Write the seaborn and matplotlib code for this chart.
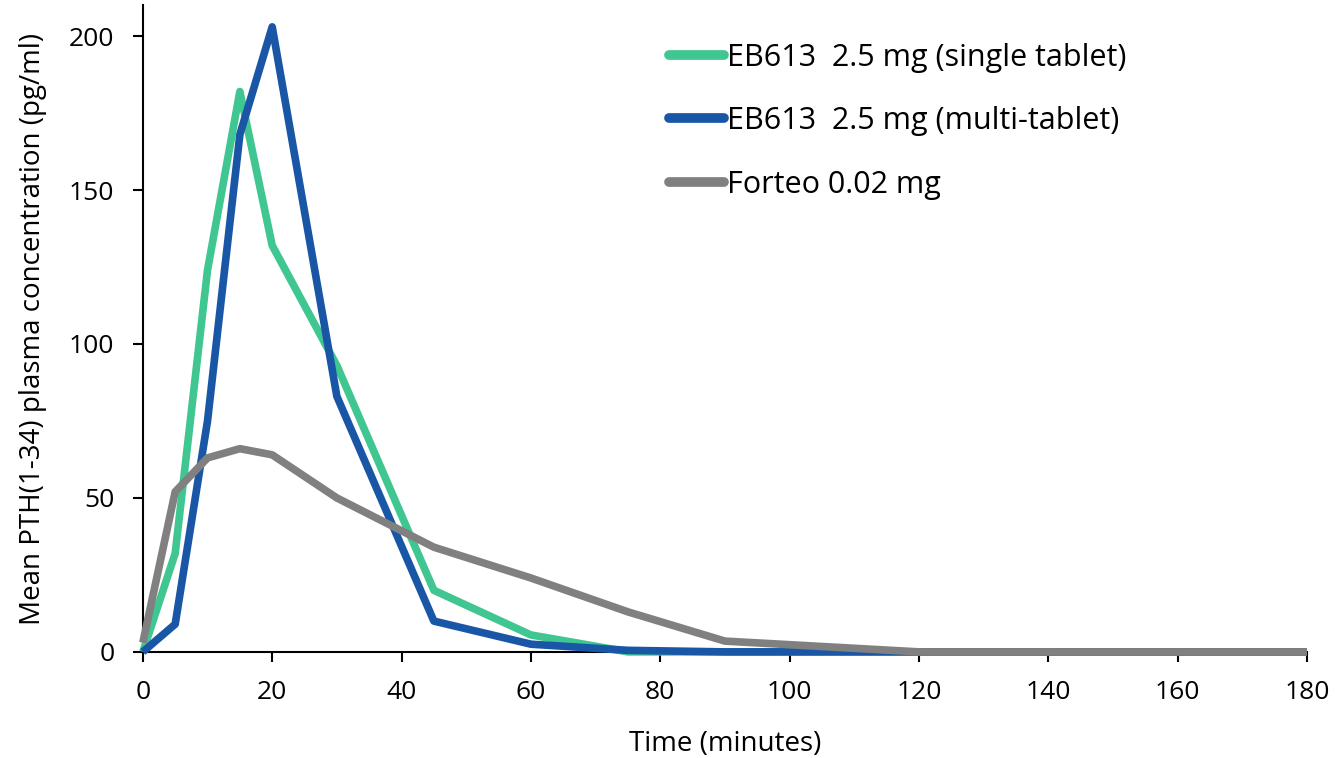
import matplotlib
matplotlib.use("Agg")
import matplotlib.pyplot as plt
import seaborn as sns
import pandas as pd

time_min = [0, 5, 10, 15, 20, 30, 45, 60, 75, 90, 120, 180]
single_tablet = [0, 32, 124, 182, 132, 93, 20, 5.5, 0, 0, 0, 0]
multi_tablet = [0, 9, 75, 168, 203, 83, 10, 2.5, 0.5, 0, 0, 0]
forteo = [3, 52, 63, 66, 64, 50, 34, 24, 13, 3.5, 0, 0]

labels = ["EB613  2.5 mg (single tablet)", "EB613  2.5 mg (multi-tablet)", "Forteo 0.02 mg"]
colors = ["#40C690", "#1957A6", "#808080"]

rows = []
for lab, vals in zip(labels, [single_tablet, multi_tablet, forteo]):
    for t, v in zip(time_min, vals):
        rows.append({"Time": t, "Conc": v, "Group": lab})
df = pd.DataFrame(rows)

sns.set_style("ticks", {"text.color": "black", "axes.labelcolor": "black",
                        "xtick.color": "black", "ytick.color": "black"})
plt.rcParams["font.family"] = ["Open Sans", "DejaVu Sans"]

fig = plt.figure(figsize=(13.35, 7.58), dpi=100)
ax = fig.add_axes([0.107, 0.14, 0.872, 0.853])

sns.lineplot(data=df, x="Time", y="Conc", hue="Group", palette=colors,
             hue_order=labels, linewidth=5.5, ax=ax, clip_on=False,
             zorder=3, solid_capstyle="butt", solid_joinstyle="round")

ax.set_xlim(0, 180)
ax.set_ylim(0, 210)
ax.set_xticks(range(0, 181, 20))
ax.set_yticks(range(0, 201, 50))
ax.tick_params(labelsize=19, length=7.5, width=1.5, color="black",
               labelcolor="black", pad=13)
for s in ["top", "right"]:
    ax.spines[s].set_visible(False)
for s in ["left", "bottom"]:
    ax.spines[s].set_linewidth(1.5)
    ax.spines[s].set_color("black")

ax.set_xlabel("Time (minutes)", fontsize=20, labelpad=18, color="black")
ax.set_ylabel("Mean PTH(1-34) plasma concentration (pg/ml)", fontsize=20,
              labelpad=16, color="black")

leg = ax.legend(loc="upper left", bbox_to_anchor=(0.428, 0.985), frameon=False,
                fontsize=22, handlelength=1.8, handletextpad=0.1, labelspacing=1.1,
                labelcolor="black")
for h in leg.get_lines():
    h.set_linewidth(7)
    h.set_solid_capstyle("round")

fig.savefig("out.png", dpi=100)
